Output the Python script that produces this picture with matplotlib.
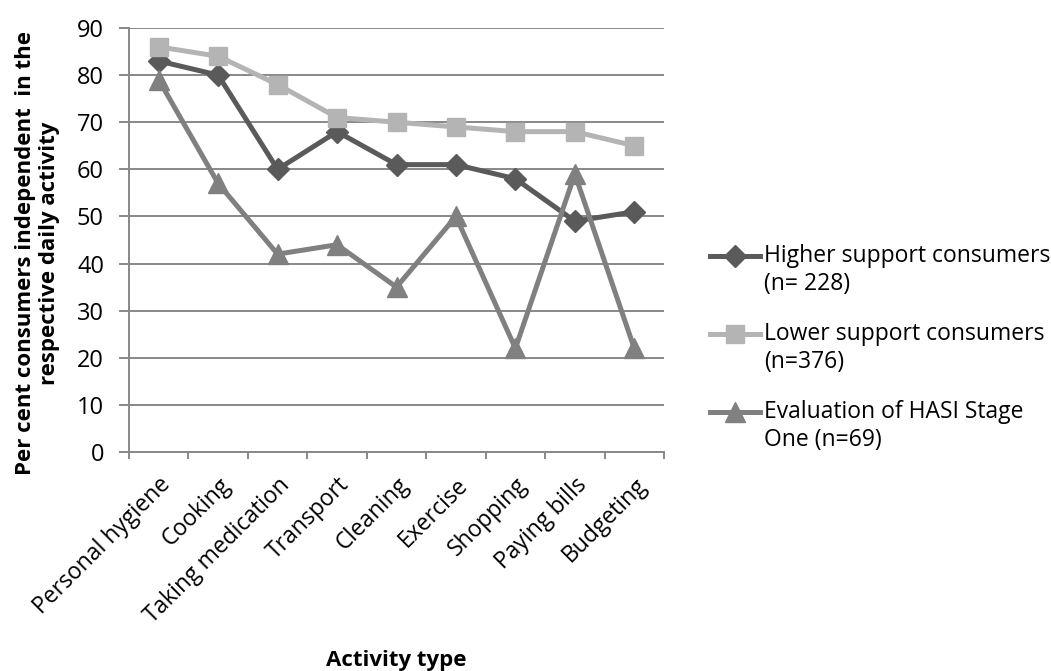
import matplotlib.pyplot as plt
from matplotlib.legend_handler import HandlerLine2D
import numpy as np

plt.rcParams['font.family'] = ['Open Sans', 'DejaVu Sans']

# Data
activities = ['Personal hygiene', 'Cooking', 'Taking medication', 'Transport',
              'Cleaning', 'Exercise', 'Shopping', 'Paying bills', 'Budgeting']
higher = [83, 80, 60, 68, 61, 61, 58, 49, 51]
lower = [86, 84, 78, 71, 70, 69, 68, 68, 65]
hasi = [79, 57, 42, 44, 35, 50, 22, 59, 22]
series_labels = ['Higher support consumers\n(n= 228)',
                 'Lower support consumers\n(n=376)',
                 'Evaluation of HASI Stage\nOne (n=69)']
y_ticks = list(range(0, 91, 10))

grid_col = '#888888'


class FirstLineHandler(HandlerLine2D):
    # put the legend key level with the first line of a two-line label
    def create_artists(self, legend, orig_handle, xdescent, ydescent,
                       width, height, fontsize, trans):
        return super().create_artists(legend, orig_handle, xdescent,
                                      ydescent - 1.3 * fontsize, width, height,
                                      fontsize, trans)


fig = plt.figure(figsize=(10.51, 6.71), dpi=100)
ax = fig.add_axes([129 / 1051, 1 - 452 / 671, 535 / 1051, 424 / 671])

x = np.arange(len(activities))
l1, = ax.plot(x, higher, color='#5a5a5a', lw=3.6, marker='D', ms=11, label=series_labels[0])
l2, = ax.plot(x, lower, color='#b4b4b4', lw=3.6, marker='s', ms=13, label=series_labels[1])
l3, = ax.plot(x, hasi, color='#808080', lw=3.6, marker='^', ms=14, label=series_labels[2])

ax.set_xlim(-0.5, len(activities) - 0.5)
ax.set_ylim(0, 90)
ax.set_yticks(y_ticks)
ax.yaxis.grid(True, color=grid_col, lw=1.4)
ax.set_axisbelow(True)

# ticks between categories, labels at category centres
ax.set_xticks(np.arange(-0.5, len(activities), 1.0))
ax.set_xticklabels([])
ax.set_xticks(x, minor=True)
ax.set_xticklabels(activities, minor=True, rotation=45, ha='right',
                   rotation_mode='anchor', fontsize=16.5)
ax.tick_params(axis='x', which='minor', length=0, pad=15)
ax.tick_params(axis='x', which='major', length=5, width=1.4, color=grid_col)
ax.tick_params(axis='y', length=7, width=1.4, color=grid_col, labelsize=17, pad=11)

for s in ['top', 'right']:
    ax.spines[s].set_visible(False)
for s in ['left', 'bottom']:
    ax.spines[s].set_color(grid_col)
    ax.spines[s].set_linewidth(1.4)

ax.set_xlabel('Activity type', fontsize=16, fontweight='bold')
ax.xaxis.set_label_coords(0.5, -0.467)
ax.set_ylabel('Per cent consumers independent  in the\nrespective daily activity',
              fontsize=16, fontweight='bold')
ax.yaxis.set_label_coords(-0.129, 0.469)

handler = FirstLineHandler()
fig.legend(handles=[l1, l2, l3], labels=series_labels,
           loc='upper left', bbox_to_anchor=(710 / 1051, 1 - 244 / 671),
           frameon=False, fontsize=16.5, borderpad=0, borderaxespad=0,
           handlelength=2.2, handletextpad=0.15, labelspacing=1.15,
           handler_map={l1: handler, l2: handler, l3: handler})

fig.savefig('out.png', dpi=100)
